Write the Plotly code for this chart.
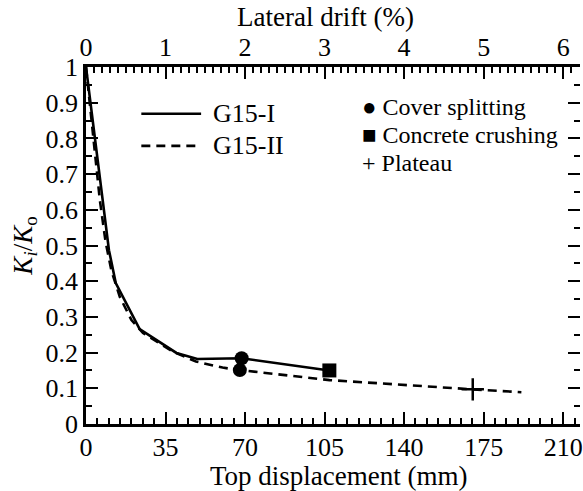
import plotly.graph_objects as go

# ---------------- data ----------------
g1_disp = [0, 10.1, 13.1, 23.6, 39.8, 49.0, 68.5, 107.1]
g1_ratio = [1.0, 0.487, 0.395, 0.266, 0.199, 0.182, 0.184, 0.150]

g2_disp = [0, 6.1, 8.6, 11.2, 14.9, 20.0, 25.1, 30.9, 38.2, 48.4, 60.1, 67.7, 107.2, 170.2, 191.6]
g2_ratio = [1.0, 0.627, 0.511, 0.429, 0.356, 0.291, 0.255, 0.231, 0.203, 0.175, 0.158, 0.151, 0.123, 0.097, 0.089]

split_disp = [68.5, 67.7]
split_ratio = [0.184, 0.151]
crush_disp = [107.1]
crush_ratio = [0.150]
plateau_disp = [170.2]
plateau_ratio = [0.097]

x_ticks = [0, 35, 70, 105, 140, 175, 210]
drift_ticks = [0, 1, 2, 3, 4, 5, 6]
y_ticks = [0, 0.1, 0.2, 0.3, 0.4, 0.5, 0.6, 0.7, 0.8, 0.9, 1]
story_height_mm = 3500.0  # 1 % drift = 35 mm

series_names = ["G15-I", "G15-II"]
marker_labels = ["\u25CF Cover splitting", "\u25A0 Concrete crushing", "+ Plateau"]
x_title = "Top displacement (mm)"
x2_title = "Lateral drift (%)"
y_title = "<i>K<sub>i</sub></i>/<i>K</i><sub>o</sub>"

FONT = "Liberation Serif"
X_MAX = 217.4

fig = go.Figure()
fig.add_trace(go.Scatter(x=g1_disp, y=g1_ratio, mode="lines", name=series_names[0],
                         line=dict(color="black", width=2.6), showlegend=False))
fig.add_trace(go.Scatter(x=g2_disp, y=g2_ratio, mode="lines", name=series_names[1],
                         line=dict(color="black", width=2.6, dash="9px,6px"), showlegend=False))
fig.add_trace(go.Scatter(x=split_disp, y=split_ratio, mode="markers", showlegend=False,
                         marker=dict(symbol="circle", size=14, color="black")))
fig.add_trace(go.Scatter(x=crush_disp, y=crush_ratio, mode="markers", showlegend=False,
                         marker=dict(symbol="square", size=14, color="black")))
fig.add_trace(go.Scatter(x=plateau_disp, y=plateau_ratio, mode="markers", showlegend=False,
                         marker=dict(symbol="cross-thin", size=16, color="black",
                                     line=dict(color="black", width=2.5))))
# invisible trace to activate the secondary (top / right) axes
fig.add_trace(go.Scatter(x=[None], y=[None], xaxis="x2", yaxis="y2", showlegend=False,
                         hoverinfo="skip"))

tickfont = dict(family=FONT, size=26, color="black")
common = dict(showline=True, linecolor="black", linewidth=2.6, ticks="inside",
              tickcolor="black", tickwidth=2, ticklen=12, showgrid=False, zeroline=False,
              tickfont=tickfont, ticklabeloverflow="allow")

fig.update_layout(
    width=583, height=491,
    margin=dict(l=86, r=0, t=67, b=67),
    plot_bgcolor="white", paper_bgcolor="white",
    font=dict(family=FONT, size=26, color="black"),
    xaxis=dict(range=[0, X_MAX], tickvals=x_ticks, ticklabelstandoff=-2, **common,
               minor=dict(dtick=5, tick0=0, ticks="inside", ticklen=6, tickwidth=2,
                          tickcolor="black")),
    xaxis2=dict(range=[0, X_MAX * 100 / story_height_mm], overlaying="x", side="top",
                tickvals=drift_ticks, anchor="y2", ticklabelstandoff=-2, **common,
                minor=dict(dtick=0.1, tick0=0, ticks="inside", ticklen=6, tickwidth=2,
                           tickcolor="black")),
    yaxis=dict(range=[0, 1], tickvals=y_ticks, **common,
               minor=dict(dtick=0.05, tick0=0, ticks="inside", ticklen=6, tickwidth=2,
                          tickcolor="black"),
               title=dict(text=y_title, font=dict(family=FONT, size=27), standoff=6)),
    yaxis2=dict(range=[0, 1], overlaying="y", side="right", anchor="x2",
                showline=False, ticks="inside", tickcolor="black", tickwidth=2, ticklen=12,
                tickvals=y_ticks, showticklabels=False, showgrid=False, zeroline=False,
                minor=dict(dtick=0.05, tick0=0, ticks="inside", ticklen=6, tickwidth=2,
                           tickcolor="black")),
)

# axis titles placed as in the reference
fig.add_annotation(xref="paper", yref="paper", x=0.5127, y=-0.146, xanchor="center",
                   yanchor="middle", text=x_title, showarrow=False,
                   font=dict(family=FONT, size=27, color="black"))
fig.add_annotation(xref="paper", yref="paper", x=0.4843, y=1.139, xanchor="center",
                   yanchor="middle", text=x2_title, showarrow=False,
                   font=dict(family=FONT, size=27, color="black"))

# legend for line styles (drawn in paper space)
fig.add_shape(type="line", xref="paper", yref="paper", x0=0.112, x1=0.233, y0=0.869, y1=0.869,
              line=dict(color="black", width=2.6))
fig.add_shape(type="line", xref="paper", yref="paper", x0=0.112, x1=0.233, y0=0.779, y1=0.779,
              line=dict(color="black", width=2.6, dash="9px,6px"))
fig.add_annotation(xref="paper", yref="paper", x=0.253, y=0.869, xanchor="left",
                   yanchor="middle", text=series_names[0], showarrow=False,
                   font=dict(family=FONT, size=26, color="black"))
fig.add_annotation(xref="paper", yref="paper", x=0.253, y=0.779, xanchor="left",
                   yanchor="middle", text=series_names[1], showarrow=False,
                   font=dict(family=FONT, size=26, color="black"))
for i, lab in enumerate(marker_labels):
    fig.add_annotation(xref="paper", yref="paper", x=0.555, y=0.888 - i * 0.079,
                       xanchor="left", yanchor="middle", text=lab, showarrow=False,
                       font=dict(family=FONT, size=24, color="black"))

fig.write_html("out.html")
